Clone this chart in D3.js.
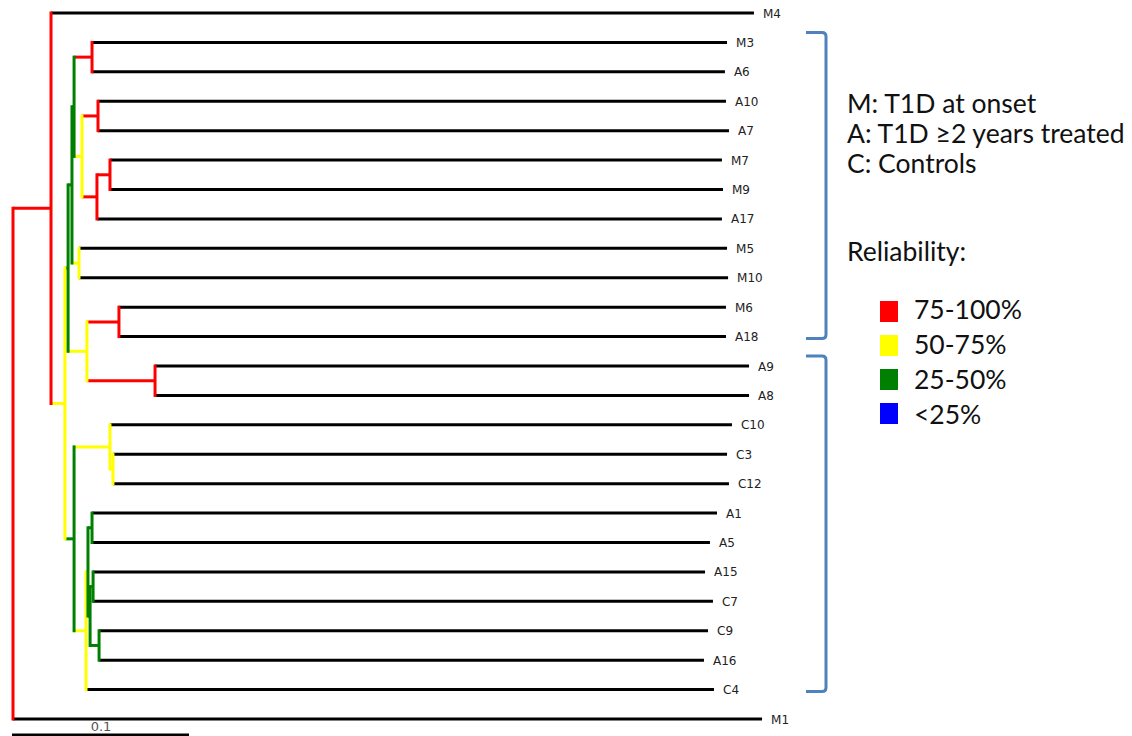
<!DOCTYPE html>
<html>
<head>
<meta charset="utf-8">
<script src="https://cdn.jsdelivr.net/npm/d3@7"></script>
<style>
    body { margin: 0; background: #fff; }
    .leaf-label { font-family: "DejaVu Sans", sans-serif; font-size: 12px; fill: #222; }
    .legend-text { font-family: Lato, "Open Sans", sans-serif; font-size: 26.5px; fill: #111; }
    .scale-text { font-family: "DejaVu Sans", sans-serif; font-size: 13px; fill: #555; }
</style>
</head>
<body>
<div id="canvas"></div>
<script>
// leaves, top to bottom: parent node and distance from the root
const leafNames = ["M4", "M3", "A6", "A10", "A7", "M7", "M9", "A17", "M5", "M10", "M6", "A18", "A9", "A8",
    "C10", "C3", "C12", "A1", "A5", "A15", "C7", "C9", "A16", "C4", "M1"];
const leafParents = ["n1", "a", "a", "b", "b", "d", "d", "c", "h", "h", "ma", "ma", "aa", "aa",
    "j", "i", "i", "ab", "ab", "ac", "ac", "ca", "ca", "l", "root"];
const leafDist = [0.4210, 0.4057, 0.4045, 0.4051, 0.4068, 0.4028, 0.4034, 0.4028, 0.4057, 0.4063, 0.4051, 0.4051, 0.4182, 0.4182,
    0.4085, 0.4057, 0.4068, 0.4000, 0.3960, 0.3932, 0.3977, 0.3949, 0.3926, 0.3983, 0.4256];

// internal nodes: parent, distance from the root, reliability of the clade
const nodeIds = ["root", "n1", "n2", "n3", "g", "f", "a", "e", "b", "c", "d", "h", "x1", "ma", "aa",
    "k", "j", "i", "l", "m", "ab", "q", "ac", "ca"];
const nodeParents = ["", "root", "n1", "n2", "n3", "g", "f", "f", "e", "e", "c", "g", "n3", "x1", "x1",
    "n2", "k", "j", "k", "l", "m", "m", "q", "q"];
const nodeDist = [0, 0.0216, 0.0295, 0.0313, 0.0335, 0.0347, 0.0449, 0.0392, 0.0483, 0.0477, 0.0551, 0.0375, 0.0420, 0.0602, 0.0807,
    0.0347, 0.0551, 0.0568, 0.0415, 0.0426, 0.0449, 0.0438, 0.0455, 0.0489];
const nodeSupport = ["75-100%", "75-100%", "50-75%", "25-50%", "25-50%", "25-50%", "75-100%", "50-75%", "75-100%", "75-100%", "75-100%", "50-75%", "50-75%", "75-100%", "75-100%",
    "25-50%", "50-75%", "50-75%", "50-75%", "25-50%", "25-50%", "25-50%", "25-50%", "25-50%"];

// legend
const groupLines = ["M: T1D at onset", "A: T1D \u22652 years treated", "C: Controls"];
const reliabilityClasses = ["75-100%", "50-75%", "25-50%", "<25%"];
const reliabilityColors = ["#ff0000", "#ffff00", "#008000", "#0000ff"];
// brackets: first and last leaf of each
const brackets = [["M3", "A18"], ["A9", "C4"]];
const scaleBarValue = 0.1;

const width = 1132, height = 736;

const svg = d3.select("#canvas")
    .append("svg")
    .attr("width", width)
    .attr("height", height);

// build the tree
const rows = nodeIds.map((id, i) => ({id: id, parent: nodeParents[i], dist: nodeDist[i], support: nodeSupport[i]}))
    .concat(leafNames.map((id, i) => ({id: id, parent: leafParents[i], dist: leafDist[i], support: null})));

const root = d3.stratify()
    .id(d => d.id)
    .parentId(d => d.parent || null)(rows);

const xScale = d3.scaleLinear()
    .domain([0, scaleBarValue])
    .range([13, 189]);

const yScale = d3.scalePoint()
    .domain(leafNames)
    .range([13, 719]);

const color = d3.scaleOrdinal()
    .domain(reliabilityClasses)
    .range(reliabilityColors);

root.eachAfter(n => {
    n.px = xScale(n.data.dist);
    if (n.children) {
        n.top = d3.min(n.children, c => c.py);
        n.bottom = d3.max(n.children, c => c.py);
        n.py = (n.top + n.bottom) / 2;
    } else {
        n.py = yScale(n.id);
    }
});

const lw = 3;
const treeGroup = svg.append("g");

// horizontal branches
treeGroup.selectAll(".branch")
    .data(root.descendants().filter(n => n.parent))
    .enter()
    .append("line")
    .attr("x1", d => d.parent.px)
    .attr("x2", d => d.px)
    .attr("y1", d => d.py)
    .attr("y2", d => d.py)
    .attr("stroke", d => d.children ? color(d.data.support) : "#000")
    .attr("stroke-width", lw);

// vertical bars of the internal nodes
treeGroup.selectAll(".bar")
    .data(root.descendants().filter(n => n.children))
    .enter()
    .append("line")
    .attr("x1", d => d.px)
    .attr("x2", d => d.px)
    .attr("y1", d => d.top - lw / 2)
    .attr("y2", d => d.bottom + lw / 2)
    .attr("stroke", d => color(d.data.support))
    .attr("stroke-width", lw);

// leaf names
treeGroup.selectAll(".leaf-label")
    .data(root.leaves())
    .enter()
    .append("text")
    .attr("class", "leaf-label")
    .attr("x", d => d.px + 9)
    .attr("y", d => d.py + 4.5)
    .text(d => d.id);

// scale bar
svg.append("line")
    .attr("x1", xScale(0) - 1)
    .attr("x2", xScale(scaleBarValue))
    .attr("y1", 735)
    .attr("y2", 735)
    .attr("stroke", "#000")
    .attr("stroke-width", lw);

svg.append("text")
    .attr("class", "scale-text")
    .attr("text-anchor", "middle")
    .attr("x", (xScale(0) + xScale(scaleBarValue)) / 2)
    .attr("y", 731)
    .text(String(scaleBarValue));

// blue brackets round the two groups
svg.selectAll(".bracket")
    .data(brackets)
    .enter()
    .append("path")
    .attr("d", d => {
        const t = yScale(d[0]) - 10, b = yScale(d[1]) + 2;
        return "M806," + t + " H822 Q826," + t + " 826," + (t + 4) +
            " V" + (b - 4) + " Q826," + b + " 822," + b + " H806";
    })
    .attr("fill", "none")
    .attr("stroke", "#4f81bd")
    .attr("stroke-width", 3);

// legend
const legend = svg.append("g");

legend.selectAll(".group-line")
    .data(groupLines)
    .enter()
    .append("text")
    .attr("class", "legend-text")
    .attr("x", 847)
    .attr("y", (d, i) => 113 + i * 30)
    .text(d => d);

legend.append("text")
    .attr("class", "legend-text")
    .attr("x", 847)
    .attr("y", 261)
    .text("Reliability:");

legend.selectAll(".swatch")
    .data(reliabilityClasses)
    .enter()
    .append("rect")
    .attr("x", 880)
    .attr("y", (d, i) => 301 + i * 34)
    .attr("width", 18)
    .attr("height", 21)
    .attr("fill", d => color(d));

legend.selectAll(".swatch-text")
    .data(reliabilityClasses)
    .enter()
    .append("text")
    .attr("class", "legend-text")
    .attr("x", 914)
    .attr("y", (d, i) => 319 + i * 35)
    .text(d => d);
</script>
</body>
</html>
